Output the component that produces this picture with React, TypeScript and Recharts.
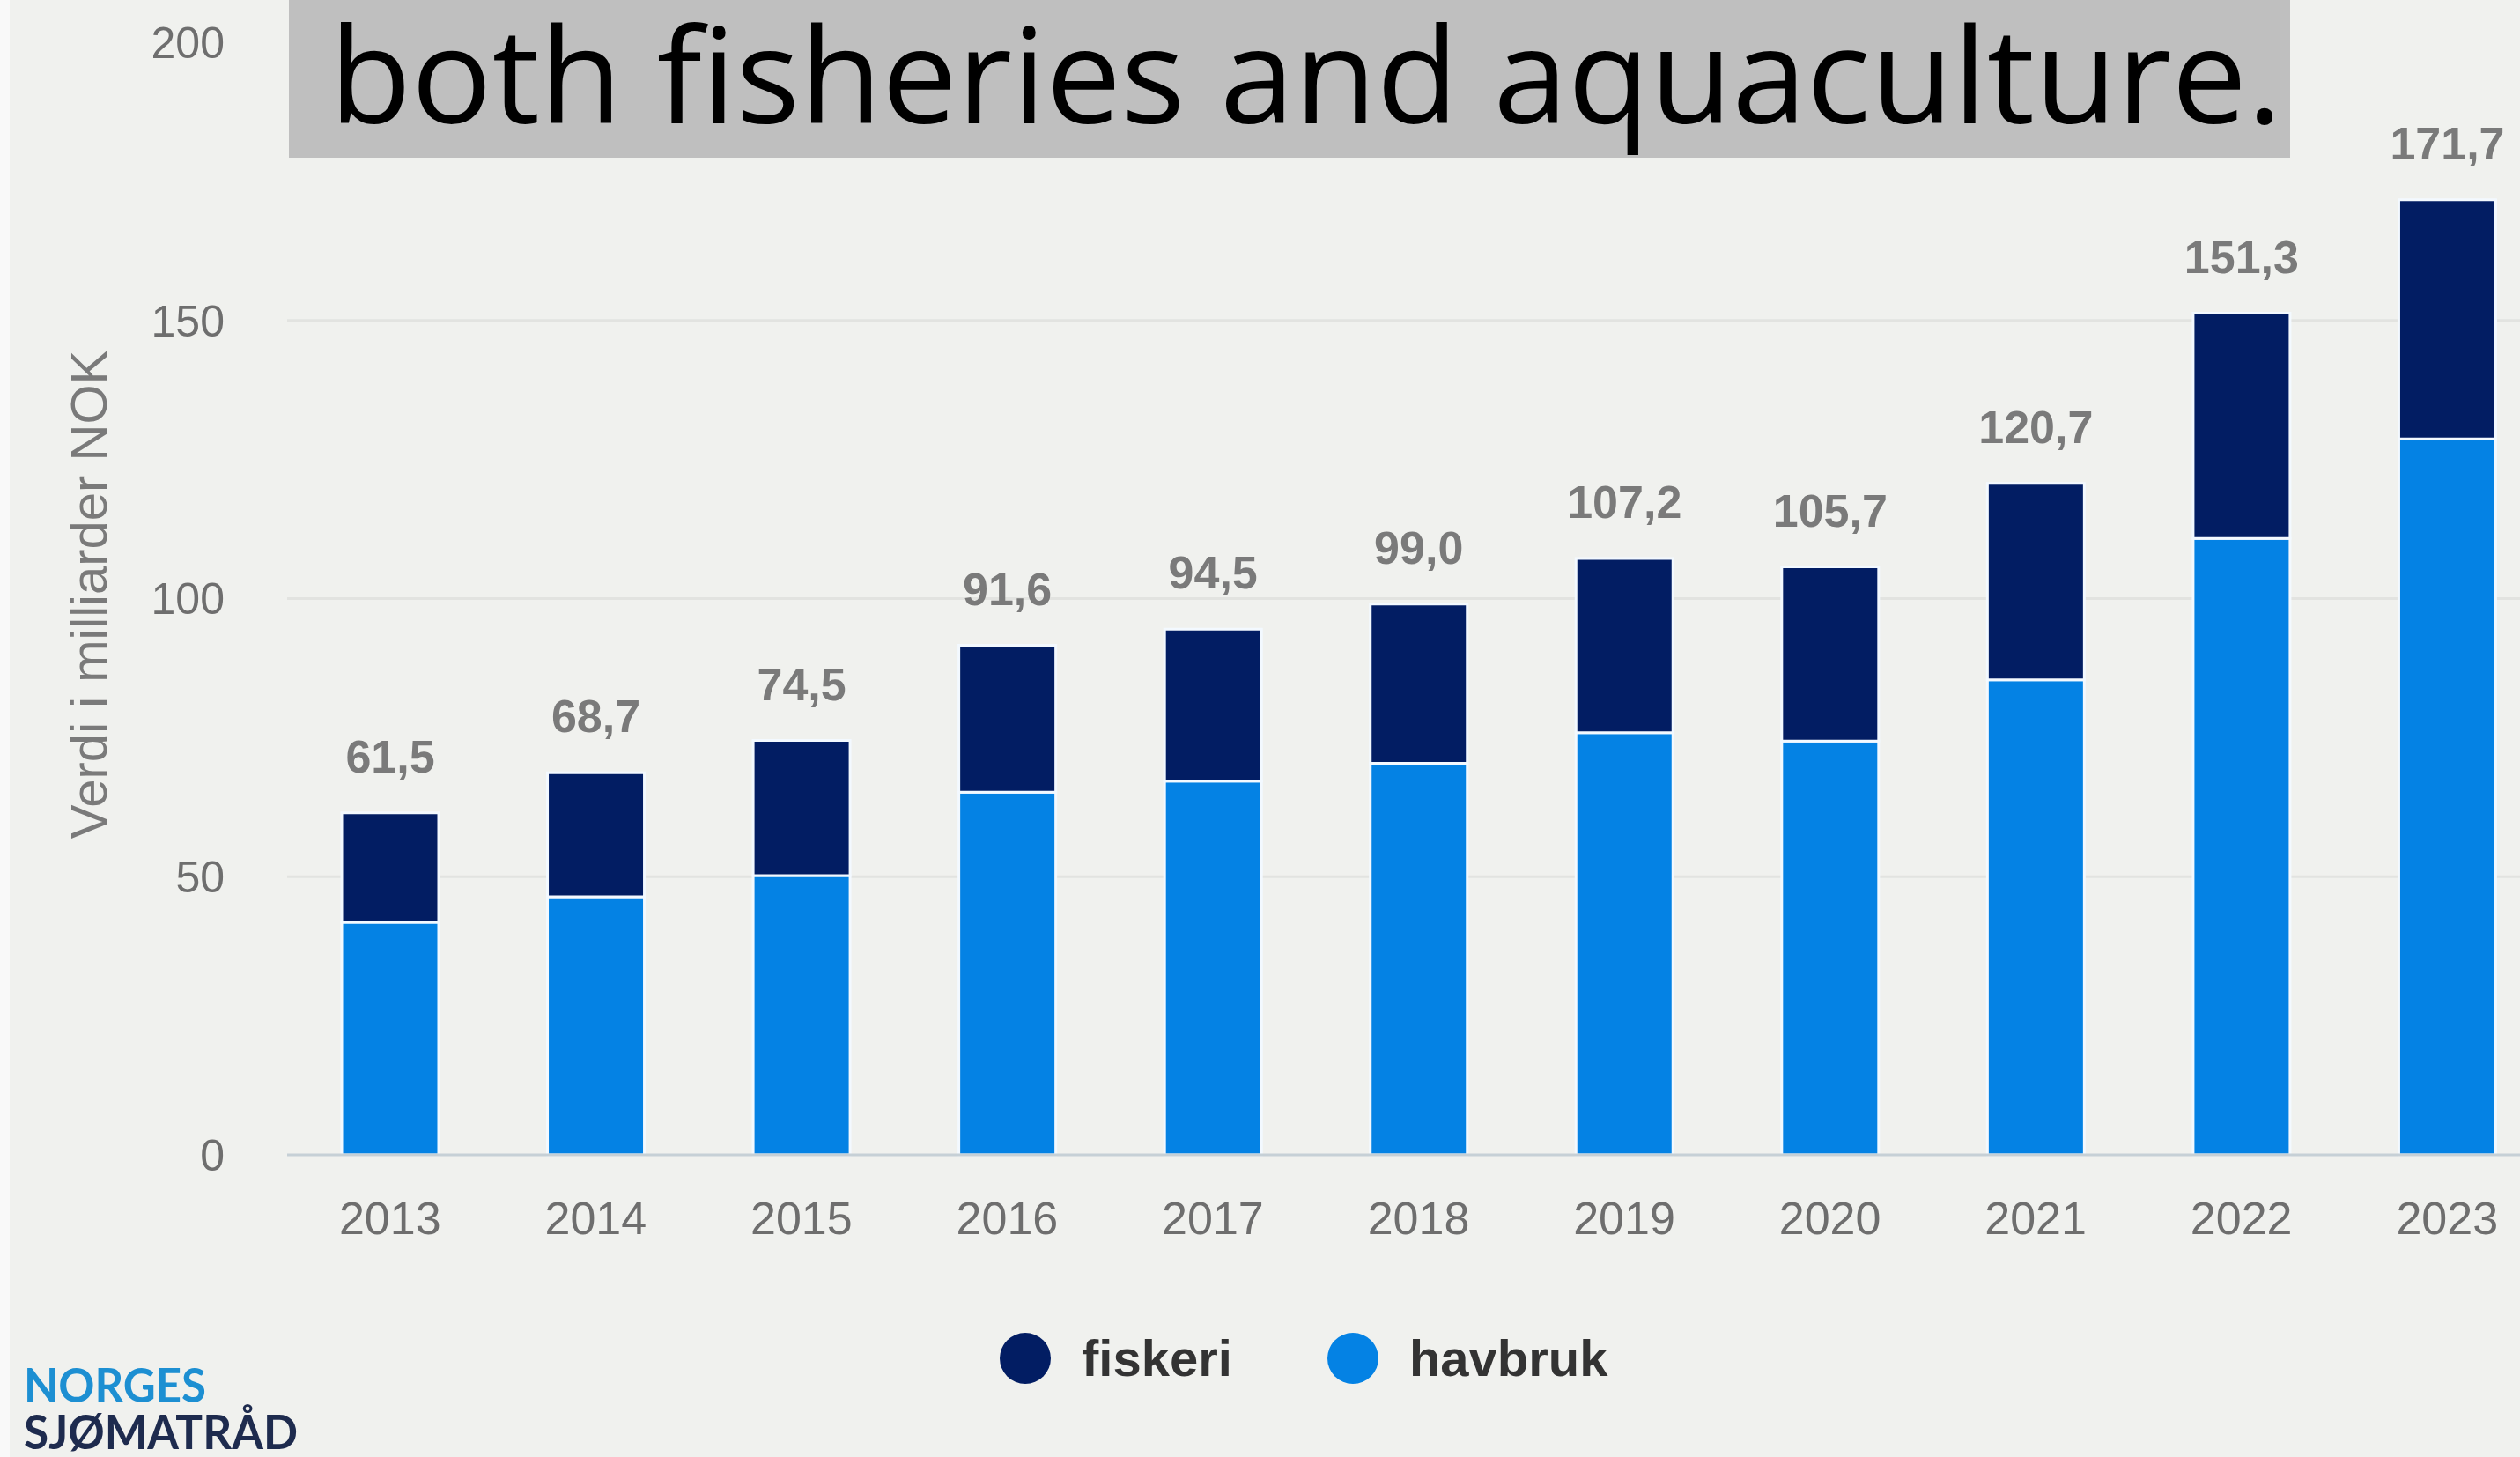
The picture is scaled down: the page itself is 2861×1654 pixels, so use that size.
import React from 'react';
import { BarChart, Bar, XAxis, YAxis, CartesianGrid, LabelList, Legend } from 'recharts';

const years = ['2013', '2014', '2015', '2016', '2017', '2018', '2019', '2020', '2021', '2022', '2023'];
const havbruk = [41.8, 46.4, 50.2, 65.2, 67.2, 70.4, 75.9, 74.4, 85.4, 110.8, 128.7];
const fiskeri = [19.7, 22.3, 24.3, 26.4, 27.3, 28.6, 31.3, 31.3, 35.3, 40.5, 43.0];
const totalLabels = ['61,5', '68,7', '74,5', '91,6', '94,5', '99,0', '107,2', '105,7', '120,7', '151,3', '171,7'];
const yTicks = [0, 50, 100, 150, 200];

const seriesNames = { fiskeri: 'fiskeri', havbruk: 'havbruk' };
const colors = { fiskeri: '#021d63', havbruk: '#0482e4' };

const data = years.map((y, i) => ({
  year: y,
  havbruk: havbruk[i],
  fiskeri: fiskeri[i],
  label: totalLabels[i],
}));

const BG = '#f0f1ee';
const FONT = '"Liberation Sans", Arial, sans-serif';

const renderTotal = (props: any) => {
  const { x, y, width, value } = props;
  return (
    <text
      x={Number(x) + Number(width) / 2}
      y={Number(y) - 64}
      textAnchor="middle"
      dominantBaseline="central"
      fontFamily={FONT}
      fontWeight="bold"
      fontSize={52}
      fill="#7a7a7a"
    >
      {value}
    </text>
  );
};

const renderLegend = () => {
  const items = [
    { key: 'fiskeri', name: seriesNames.fiskeri, color: colors.fiskeri },
    { key: 'havbruk', name: seriesNames.havbruk, color: colors.havbruk },
  ];
  return (
    <div style={{ display: 'flex', alignItems: 'center', height: 58 }}>
      {items.map((it, i) => (
        <div key={it.key} style={{ display: 'flex', alignItems: 'center', marginRight: i === 0 ? 108 : 0 }}>
          <div style={{ width: 58, height: 58, borderRadius: 29, background: it.color, marginRight: 35 }} />
          <span style={{ fontFamily: FONT, fontWeight: 'bold', fontSize: 58, color: '#333333', lineHeight: '58px' }}>
            {it.name}
          </span>
        </div>
      ))}
    </div>
  );
};

export default function App() {
  return (
    <div
      style={{
        position: 'fixed',
        left: 0,
        top: 0,
        width: 2861,
        height: 1654,
        overflow: 'hidden',
        background: BG,
      }}
    >
      <div style={{ position: 'absolute', left: 0, top: 0, width: 11, height: 1654, background: '#f9f9f9' }} />
      <BarChart
        width={2900}
        height={1654}
        data={data}
        margin={{ top: 48, right: 5, left: 0, bottom: 185 }}
        barSize={110}
      >
        <CartesianGrid vertical={false} stroke="#e2e3e0" strokeWidth={3} horizontalValues={[50, 100, 150]} />
        <XAxis
          dataKey="year"
          height={100}
          axisLine={{ stroke: '#c6d0d6', strokeWidth: 3 }}
          tickLine={false}
          tickSize={0}
          tickMargin={53}
          tick={{ fontFamily: FONT, fontSize: 52, fill: '#6e6e6e' }}
          interval={0}
        />
        <YAxis
          width={326}
          domain={[0, 200]}
          ticks={yTicks}
          axisLine={false}
          tickLine={false}
          tickSize={0}
          tickMargin={71}
          tick={{ fontFamily: FONT, fontSize: 50, fill: '#6e6e6e' }}
        />
        <Legend
          content={renderLegend}
          wrapperStyle={{ position: 'absolute', left: 1135, top: 1513, width: 900, height: 58, bottom: 'auto' }}
        />
        <Bar
          dataKey="havbruk"
          name={seriesNames.havbruk}
          stackId="a"
          fill={colors.havbruk}
          stroke="#f3f9ff"
          strokeWidth={3}
          isAnimationActive={false}
        />
        <Bar
          dataKey="fiskeri"
          name={seriesNames.fiskeri}
          stackId="a"
          fill={colors.fiskeri}
          stroke="#f3f9ff"
          strokeWidth={3}
          isAnimationActive={false}
        >
          <LabelList dataKey="label" content={renderTotal} />
        </Bar>
      </BarChart>
      <svg
        width={2861}
        height={1654}
        style={{ position: 'absolute', left: 0, top: 0, pointerEvents: 'none' }}
      >
        <rect x={328} y={0} width={2272} height={179} fill="#bfbfbf" />
        <text
          x={374}
          y={140}
          fontFamily='"Open Sans", "Noto Sans", sans-serif'
          fontSize={150}
          fill="#000000"
          textLength={2217}
          lengthAdjust="spacingAndGlyphs"
        >
          both fisheries and aquaculture.
        </text>
        <text
          x={0}
          y={0}
          transform="translate(100 675) rotate(-90)"
          textAnchor="middle"
          dominantBaseline="central"
          fontFamily={FONT}
          fontSize={58}
          fill="#7a7a7a"
        >
          Verdi i milliarder NOK
        </text>
        <text
          x={27}
          y={1592}
          fontFamily='Lato, "Open Sans", sans-serif'
          fontWeight="bold"
          fontSize={54}
          fill="#1d8fd2"
          textLength={207}
          lengthAdjust="spacingAndGlyphs"
        >
          NORGES
        </text>
        <text
          x={27}
          y={1645}
          fontFamily='Lato, "Open Sans", sans-serif'
          fontWeight="bold"
          fontSize={54}
          fill="#1e2b4e"
          textLength={311}
          lengthAdjust="spacingAndGlyphs"
        >
          SJØMATRÅD
        </text>
      </svg>
    </div>
  );
}
